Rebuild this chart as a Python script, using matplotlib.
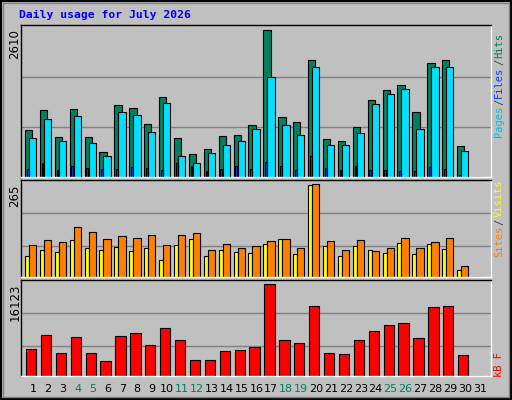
import matplotlib
matplotlib.use("Agg")
import matplotlib.pyplot as plt
from matplotlib.patches import Rectangle
import numpy as np

days = list(range(1, 32))
hits  = [823,1178,716,1196,716,450,1267,1213,929,1409,698,414,503,734,752,912,2610,1054,965,2066,681,645,876,1356,1533,1622,1143,2013,2066,556,0]
files = [698,1018,645,1072,610,379,1143,1089,805,1302,379,255,432,574,645,841,1764,912,752,1942,574,574,770,1285,1462,1551,841,1942,1942,468,0]
pages = [148,255,130,201,166,148,148,184,166,130,255,201,112,148,201,148,272,201,130,379,166,130,201,130,130,112,112,184,148,41,0]
sites = [60,78,72,107,84,78,86,75,84,49,92,109,60,78,72,69,95,109,66,262,89,60,89,78,69,98,66,95,81,20,0]
visits= [92,107,101,144,130,109,118,112,121,92,121,127,78,95,84,89,104,109,84,265,104,78,107,75,84,112,84,101,112,32,0]
kbytes= [4824,7296,4118,6943,4118,2706,7120,7473,5530,8355,6413,2883,2883,4471,4648,5177,16123,6413,5883,12237,4118,3942,6413,7825,8884,9237,6766,12061,12237,3765,0]
weekend = [4,5,11,12,18,19,25,26]

BG = "#C0C0C0"
fig = plt.figure(figsize=(5.12, 4.0), dpi=100, facecolor=BG)
W, H = 512, 400
x = np.array(days, dtype=float)

def mkax(top, bot):
    ax = fig.add_axes([21/W, 1-bot/H, 470/W, (bot-top)/H])
    ax.set_facecolor(BG)
    ax.set_xlim(0.195, 31.74)
    for s in ("top", "left"):
        ax.spines[s].set_color("black")
    for s in ("bottom", "right"):
        ax.spines[s].set_color("white")
    for s in ax.spines.values():
        s.set_linewidth(1)
    ax.set_xticks([]); ax.set_yticks([])
    return ax

def grid(ax, fr):
    for f in fr:
        ax.axhline(f*ax.get_ylim()[1], color="#808080", lw=1, zorder=0)

def bars(ax, off0, off1, vals, color):
    w = off1 - off0
    ax.bar(x + off0, vals, width=w, align="edge", color=color, edgecolor="black", linewidth=0.8, zorder=2)

ax1 = mkax(25, 177)
ax1.set_ylim(0, 2610*152/147.5)
grid(ax1, [50/152, 100/152])
bars(ax1, -0.54, -0.05, hits, "#008060")
bars(ax1, -0.27, 0.22, files, "#00E0FF")
bars(ax1, -0.42, -0.30, pages, "#0040FF")

ax2 = mkax(180, 277)
ax2.set_ylim(0, 265*97/92.7)
grid(ax2, [30.7/97, 63.7/97])
bars(ax2, -0.54, -0.27, sites, "#FFFF00")
bars(ax2, -0.27, 0.22, visits, "#FF8000")

ax3 = mkax(280, 376)
ax3.set_ylim(0, 16123*96/91.7)
grid(ax3, [29.7/96, 62.7/96])
bars(ax3, -0.47, 0.22, kbytes, "#FF0000")
ax3.set_xticks(days)
ax3.set_xticklabels([str(d) for d in days], fontsize=8)
ax3.tick_params(axis="x", length=0, pad=6)
for lbl, d in zip(ax3.get_xticklabels(), days):
    lbl.set_color("#008060" if d in weekend else "black")

fig.text(15/W, 1-29/H, "2610", rotation=90, ha="center", va="top", fontsize=8.5)
fig.text(15/W, 1-185/H, "265", rotation=90, ha="center", va="top", fontsize=8.5)
fig.text(15/W, 1-284/H, "16123", rotation=90, ha="center", va="top", fontsize=8.5)

fig.text(19/W, 1-15/H, "Daily usage for July 2026", color="#0000FF", fontsize=8.2,
         fontweight="bold", family="DejaVu Sans Mono", va="center")

fig.canvas.draw()
renderer = fig.canvas.get_renderer()

def vlegend(parts, ybot, ytop=None):
    texts = []
    y = ybot
    for t, c in parts:
        tt = fig.text(499/W, 1-y/H, t, rotation=90, color=c, fontsize=7.5,
                      family="DejaVu Sans Mono", ha="center", va="bottom")
        bb = tt.get_window_extent(renderer)
        y -= bb.height + 1
        texts.append(tt)
vlegend([("Pages", "#00C0E0"), ("/", "#404040"), ("Files", "#0040FF"), ("/", "#404040"), ("Hits", "#008060")], 137)
vlegend([("Sites", "#FF8000"), ("/", "#404040"), ("Visits", "#FFFF00")], 257)
vlegend([("kB F", "#FF0000")], 377)

fig.patches.append(Rectangle((0, 0), 1, 1, transform=fig.transFigure, fill=False,
                             edgecolor="black", linewidth=3))
fig.patches.append(Rectangle((3/W, 3/H), 1-6/W, 1-6/H, transform=fig.transFigure, fill=False,
                             edgecolor="#808080", linewidth=1))

fig.savefig("out.png", dpi=100, facecolor=BG)
